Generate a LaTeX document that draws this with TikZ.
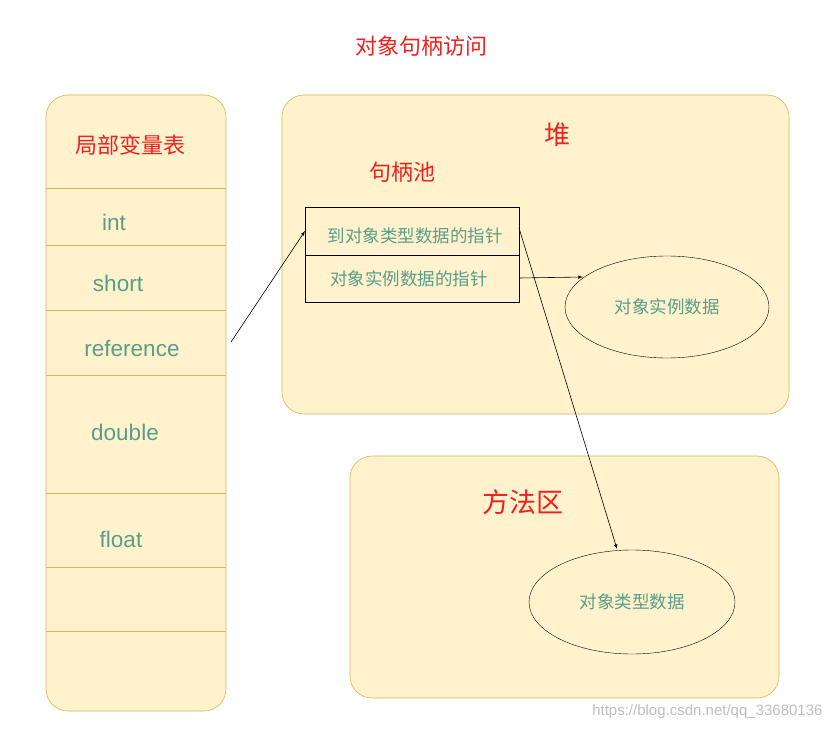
\documentclass[tikz,border=0pt]{standalone}
\usepackage{fontspec}
\usetikzlibrary{shapes.geometric}
\setmainfont{Noto Sans CJK SC}
\newfontfamily\latinf{Liberation Sans}
\begin{document}
\begin{tikzpicture}[x=1pt,y=-1pt,
  area/.style={draw=myborder,fill=myfill,rounded corners=22pt,line width=0.6pt},
  red/.style={text=myred,font=\fontsize{22}{26}\selectfont},
  var/.style={text=myteal,font=\latinf\fontsize{22.5}{26}\selectfont},
  small/.style={text=myteal,font=\fontsize{17.5}{20}\selectfont},
  arr/.style={-latex,line width=0.6pt}]
\definecolor{myfill}{HTML}{FFF2CC}
\definecolor{myborder}{HTML}{D6B656}
\definecolor{myred}{HTML}{F02020}
\definecolor{myteal}{HTML}{5A9E8A}
\useasboundingbox[fill=white] (0,0) rectangle (832,730);
\node[red] (title) at (421,46) {对象句柄访问};
% left column
\draw[area] (46,95) rectangle (226,711);
\foreach \y in {188,245,310,375,493,567,631} \draw[myborder,line width=0.6pt] (46,\y) -- (226,\y);
\node[red] (lvt) at (130,145) {局部变量表};
\node[var] (int) at (114,222) {int};
\node[var] (short) at (118,283) {short};
\node[var] (ref) at (132,348) {reference};
\node[var] (dbl) at (125,432) {double};
\node[var] (flt) at (121,539) {float};
\coordinate (refout) at (231,342);
% heap
\draw[area] (282,95) rectangle (789,414);
\node[red,font=\fontsize{26}{30}\selectfont] (heap) at (557,135) {堆};
\node[red] (pool) at (402,172) {句柄池};
\node[draw,minimum width=214pt,minimum height=48pt,anchor=north west,inner sep=0] (p1) at (305,207) {};
\node[draw,minimum width=214pt,minimum height=47pt,anchor=north west,inner sep=0] (p2) at (305,255) {};
\node[small] at (415,236) {到对象类型数据的指针};
\node[small] at (409,279) {对象实例数据的指针};
\node[draw,ellipse,minimum width=204pt,minimum height=102pt,inner sep=0] (inst) at (667,307) {};
\node[small] at (667,307) {对象实例数据};
% method area
\draw[area] (350,456) rectangle (779,698);
\node[red,font=\fontsize{27}{31}\selectfont] (ma) at (523,502) {方法区};
\node[draw,ellipse,minimum width=206pt,minimum height=104pt,inner sep=0] (type) at (632,602) {};
\node[small] at (632,602) {对象类型数据};
% arrows
\coordinate (a1) at (519,278);
\coordinate (a2) at (583,277);
\coordinate (b1) at (519,228);
\coordinate (b2) at (617,549);
\coordinate (c2) at (305,231);
\draw[arr] (refout) -- (c2);
\draw[arr] (a1) -- (a2);
\draw[arr] (b1) -- (b2);
\node[text=black!25,font=\latinf\fontsize{15}{18}\selectfont,anchor=east] (wm) at (826,712) {https://blog.csdn.net/qq\_33680136};
\end{tikzpicture}
\end{document}
